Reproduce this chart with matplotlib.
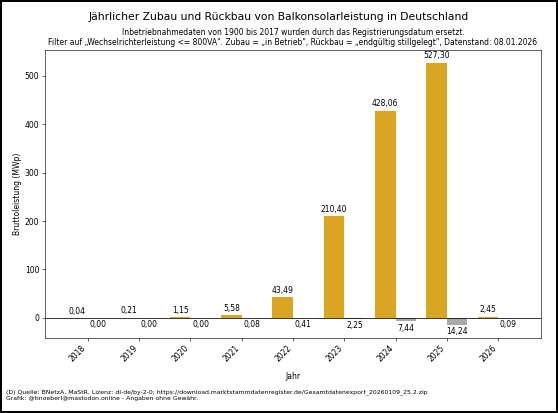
import matplotlib
matplotlib.use("Agg")
import matplotlib.pyplot as plt

# Werte (MWp)
jahre = [2018, 2019, 2020, 2021, 2022, 2023, 2024, 2025, 2026]
zubau = [0.04, 0.21, 1.15, 5.58, 43.49, 210.40, 428.06, 527.30, 2.45]
rueckbau = [0.00, 0.00, 0.00, 0.08, 0.41, 2.25, 7.44, 14.24, 0.09]

titel = "Jährlicher Zubau und Rückbau von Balkonsolarleistung in Deutschland"
untertitel = ("Inbetriebnahmedaten von 1900 bis 2017 wurden durch das Registrierungsdatum ersetzt.\n"
              "Filter auf „Wechselrichterleistung <= 800VA\". Zubau = „in Betrieb\", "
              "Rückbau = „endgültig stillgelegt\", Datenstand: 08.01.2026")
fussnote = ("(D) Quelle: BNetzA, MaStR, Lizenz: dl-de/by-2-0; "
            "https://download.marktstammdatenregister.de/Gesamtdatenexport_20260109_25.2.zip\n"
            "Grafik: @tinoeberl@mastodon.online - Angaben ohne Gewähr.")

def fmt(v):
    return f"{v:.2f}".replace(".", ",")

dpi = 55
fig = plt.figure(figsize=(558 / dpi, 413 / dpi), dpi=dpi,
                 edgecolor="black", linewidth=3)
ax = fig.add_axes([0.080, 0.182, 0.890, 0.698])

b1 = ax.bar(jahre, zubau, width=-0.4, align="edge", color="goldenrod")
b2 = ax.bar(jahre, [-v for v in rueckbau], width=0.4, align="edge", color="darkgray")
ax.axhline(0, color="black", linewidth=1)

ax.bar_label(b1, labels=[fmt(v) for v in zubau], padding=3)
# Rückbau-Beschriftung immer unterhalb (auch bei 0,00)
for j, v in zip(jahre, rueckbau):
    ax.annotate(fmt(v), (j + 0.2, -v), xytext=(0, -3), textcoords="offset points",
                ha="center", va="top")

ax.set_xticks(jahre)
ax.set_xticklabels([str(j) for j in jahre], rotation=45, ha="right")
ax.set_xlabel("Jahr", labelpad=12)
ax.set_ylabel("Bruttoleistung (MWp)")
ax.set_title(untertitel, fontsize=10)
fig.suptitle(titel, fontsize=14, y=0.972)
fig.text(0.01, 0.03, fussnote, fontsize=8, ha="left", va="bottom", linespacing=1.1)

fig.savefig("out.png", dpi=dpi)
